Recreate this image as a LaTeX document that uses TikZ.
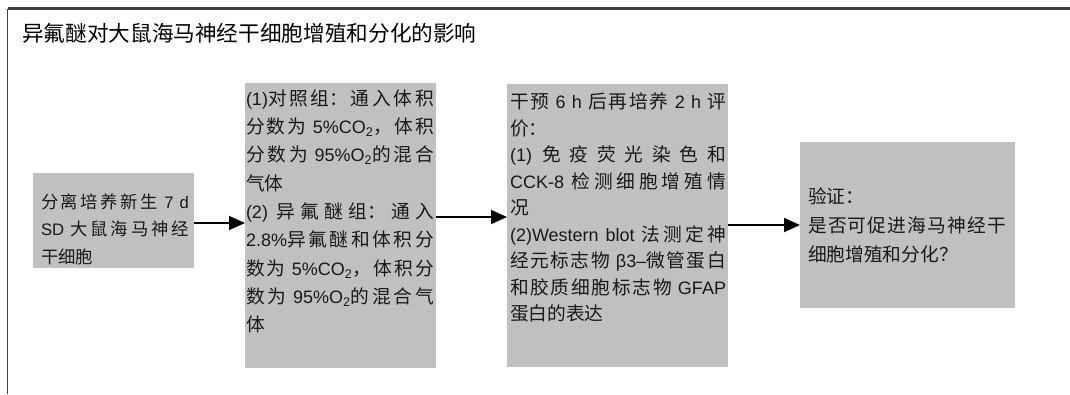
\documentclass[tikz,border=0pt]{standalone}
\usepackage{fontspec}
\setmainfont{Noto Sans CJK SC}[Scale=1.04]
\newfontfamily\latf{Liberation Sans}
\newcommand\la[1]{{\latf #1}}
\newcommand\subs[1]{\textsubscript{#1}}
\usetikzlibrary{arrows.meta}
\XeTeXlinebreaklocale "zh"
\XeTeXlinebreakskip=0pt plus 3pt
\tolerance=10000
\hbadness=10000
\definecolor{boxgray}{RGB}{192,192,192}
\definecolor{framegray}{RGB}{64,64,64}
\begin{document}
\begin{tikzpicture}[x=0.75pt,y=-0.75pt,
  box/.style={draw=none, fill=boxgray, inner sep=0pt, outer sep=0pt},
  txt/.style={anchor=north west, inner sep=0pt, outer sep=0pt, align=justify, text=black!90},
  arr/.style={line width=1.4pt, -{Triangle[length=12pt,width=10.5pt]}},
  frame/.style={framegray}
  ]
\useasboundingbox (0,0) rectangle (1070,394);
% frame
\draw[frame, line width=1.6pt] (1070,8.5) -- (7.5,8.5);
\draw[frame, line width=1.1pt] (7.5,8.5) -- (7.5,394);
% title
\node[anchor=west, inner sep=0pt, font=\fontsize{15.6}{19}\selectfont] (title) at (22,33) {异氟醚对大鼠海马神经干细胞增殖和分化的影响};
% boxes
\node[box, minimum width=120.75pt, minimum height=71.25pt] (b1) at (113.5,220.5) {};
\node[box, minimum width=143.25pt, minimum height=213.75pt] (b2) at (340.5,225.5) {};
\node[box, minimum width=165.75pt, minimum height=212.25pt] (b3) at (617.5,225.5) {};
\node[box, minimum width=161.25pt, minimum height=124.5pt] (b4) at (907.5,225) {};
% texts
\node[txt, text width=111pt, font={\fontsize{12.5}{20.6}\selectfont\parindent=0pt}] (t1) at (41,189)
  {\strut 分离培养新生\la{ 7 d}\linebreak \la{SD }大鼠海马神经\linebreak 干细胞};
\node[txt, text width=141pt, font={\fontsize{13.5}{21.25}\selectfont\parindent=0pt}] (t2) at (246,85.3)
  {\strut\la{(1)}对照组：通入体积\linebreak 分数为\la{ 5\%CO\subs{2}}，体积\linebreak 分数为\la{ 95\%O\subs{2}}的混合\linebreak 气体\par
   \la{(2) }异氟醚组：通入\linebreak \la{2.8\%}异氟醚和体积分\linebreak 数为\la{ 5\%CO\subs{2}}，体积分\linebreak 数为\la{ 95\%O\subs{2}}的混合气\linebreak 体};
\node[txt, text width=162pt, font={\fontsize{13.5}{19.9}\selectfont\parindent=0pt}] (t3) at (510,89.9)
  {\strut 干预\la{ 6 h }后再培养\la{ 2 h }评\linebreak 价：\par
   \la{(1) }免疫荧光染色和\linebreak \la{CCK-8 }检测细胞增殖情\linebreak 况\par
   \la{(2)Western blot }法测定神\linebreak 经元标志物\la{ β3–}微管蛋白\linebreak 和胶质细胞标志物\la{ GFAP}\linebreak 蛋白的表达};
\node[txt, text width=149pt, font={\fontsize{13.5}{21.75}\selectfont\parindent=0pt}] (t4) at (808,183.2)
  {\strut 验证：\par 是否可促进海马神经干\linebreak 细胞增殖和分化？};
% arrows
\coordinate (a1) at (0,223);
\coordinate (a2) at (0,217);
\coordinate (a3) at (0,225);
\draw[arr] (b1.east |- a1) -- (b2.west |- a1);
\draw[arr] (b2.east |- a2) -- (b3.west |- a2);
\draw[arr] (b3.east |- a3) -- (b4.west |- a3);
\end{tikzpicture}
\end{document}
